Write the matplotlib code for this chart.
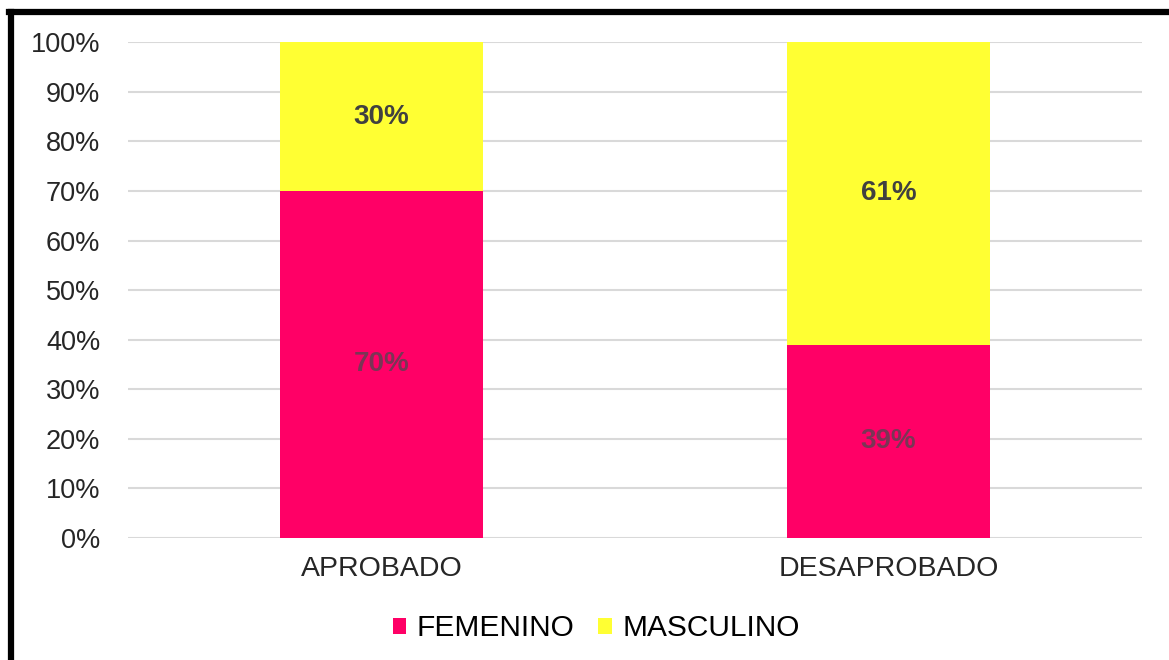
import matplotlib.pyplot as plt
from matplotlib.lines import Line2D
from matplotlib.patches import Patch

plt.rcParams['font.family'] = ['Liberation Sans', 'DejaVu Sans']

# data
categories = ['APROBADO', 'DESAPROBADO']
femenino = [0.70, 0.39]
masculino = [0.30, 0.61]
series_names = ['FEMENINO', 'MASCULINO']
colors = ['#FF0066', '#FFFF33']

fig = plt.figure(figsize=(11.69, 6.6), dpi=100)
ax = fig.add_axes([0.1095, 0.185, 0.8675, 0.751])

x = list(range(len(categories)))
width = 0.4
ax.bar(x, femenino, width, color=colors[0], zorder=2)
ax.bar(x, masculino, width, bottom=femenino, color=colors[1], zorder=2)

# data labels
for i in x:
    ax.text(i, femenino[i] / 2, f'{femenino[i]:.0%}', ha='center', va='center',
            fontsize=20, fontweight='bold', color='#7a3555', zorder=3)
    ax.text(i, femenino[i] + masculino[i] / 2, f'{masculino[i]:.0%}', ha='center',
            va='center', fontsize=20, fontweight='bold', color='#404040', zorder=3)

ax.set_xlim(-0.5, 1.5)
ax.set_ylim(0, 1.0)
ax.set_yticks([i / 10 for i in range(11)])
ax.set_yticklabels([f'{i * 10}%' for i in range(11)])
ax.set_xticks(x)
ax.set_xticklabels(categories)
ax.tick_params(axis='x', length=0, labelsize=20.5, colors='#262626', pad=13)
ax.tick_params(axis='y', length=0, labelsize=19.5, colors='#262626', pad=20)
ax.grid(axis='y', color='#d9d9d9', linewidth=1.5, zorder=0)
for s in ax.spines.values():
    s.set_visible(False)

handles = [Patch(facecolor=c, edgecolor='none') for c in colors]
fig.legend(handles, series_names, loc='center', bbox_to_anchor=(0.510, 0.048),
           ncol=2, frameon=False, fontsize=21.5, handlelength=0.45, handleheight=0.45,
           handletextpad=0.35, columnspacing=0.8)

# outer black frame (left and top visible)
fig.add_artist(Line2D([0.0094, 0.0094], [0, 0.982], color='black', linewidth=4.5,
                      transform=fig.transFigure))
fig.add_artist(Line2D([0.0075, 1], [0.982, 0.982], color='black', linewidth=4.5,
                      transform=fig.transFigure))

fig.savefig('out.png', dpi=100)
